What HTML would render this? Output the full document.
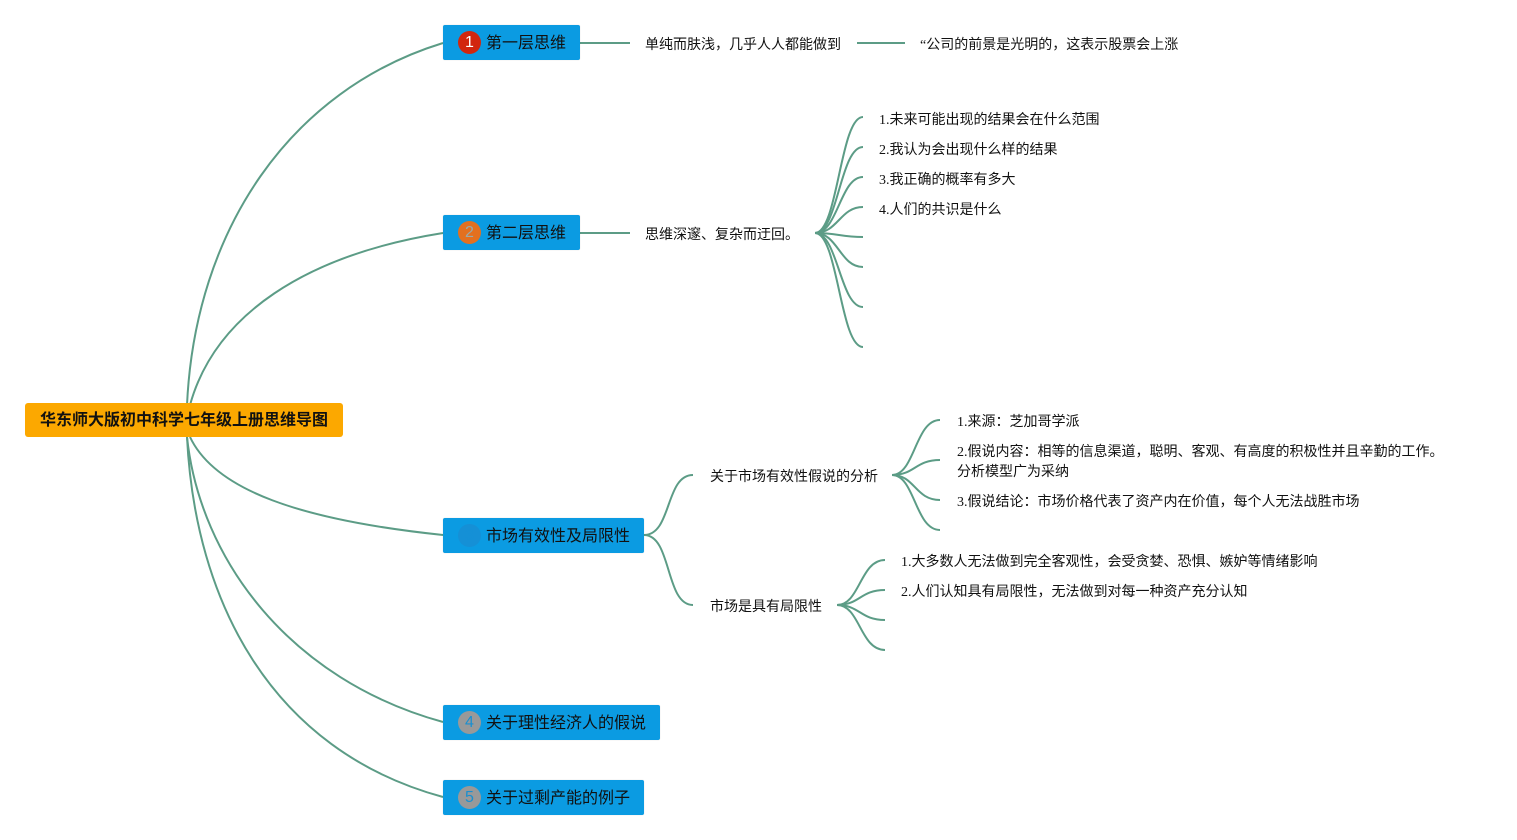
<!DOCTYPE html>
<html><head><meta charset="utf-8">
<style>
*{margin:0;padding:0;box-sizing:border-box}
body{width:1517px;height:840px;background:#fff;position:relative;overflow:hidden;font-family:"Liberation Sans","Noto Sans CJK SC",sans-serif;color:#111}
.t{position:absolute;font-size:14px;line-height:20px;white-space:nowrap;font-family:"Liberation Serif","Noto Sans CJK SC",sans-serif;margin-top:2px}
.b{position:absolute;background:#0B9BE2;border-radius:2px;font-size:16px;line-height:35px;height:35px;color:#111;box-shadow:0 0 1px rgba(0,0,0,.2)}
.b span.l{position:absolute;left:43px;top:1px}
.c{position:absolute;left:15px;top:6px;width:23px;height:23px;border-radius:50%;font-size:16px;line-height:23px;text-align:center}
.root{position:absolute;left:25px;top:403px;width:318px;height:34px;background:#FCA800;border-radius:3px;font-weight:bold;font-size:16px;line-height:36px;text-align:center;color:#111}
svg{position:absolute;left:0;top:0}
</style></head><body>
<svg width="1517" height="840" fill="none" stroke="#5C9C86" stroke-width="2">
<path d="M187,405 C195,230 290,90 443,43"/>
<path d="M190,405 C215,315 305,255 443,233"/>
<path d="M190,437 C215,490 300,520 443,535"/>
<path d="M187,437 C200,560 290,680 443,722"/>
<path d="M187,437 C195,600 270,750 443,797"/>
<path d="M580,43 H630"/>
<path d="M857,43 H905"/>
<path d="M580,233 H630"/>
<path d="M815,233 C838,233 840,117 863,117"/>
<path d="M815,233 C838,233 840,147 863,147"/>
<path d="M815,233 C838,233 840,177 863,177"/>
<path d="M815,233 C838,233 840,207 863,207"/>
<path d="M815,233 C838,233 840,237 863,237"/>
<path d="M815,233 C838,233 840,267 863,267"/>
<path d="M815,233 C838,233 840,307 863,307"/>
<path d="M815,233 C838,233 840,347 863,347"/>
<path d="M644,535 C672,535 665,475 693,475"/>
<path d="M644,535 C672,535 665,605 693,605"/>
<path d="M892,475 C915,475 915,420 940,420"/>
<path d="M892,475 C915,475 915,460 940,460"/>
<path d="M892,475 C915,475 915,500 940,500"/>
<path d="M892,475 C915,475 915,530 940,530"/>
<path d="M837,605 C860,605 860,560 885,560"/>
<path d="M837,605 C860,605 860,590 885,590"/>
<path d="M837,605 C860,605 860,620 885,620"/>
<path d="M837,605 C860,605 860,650 885,650"/>
</svg>

<div class="root">华东师大版初中科学七年级上册思维导图</div>

<div class="b" style="left:443px;top:25px;width:137px"><div class="c" style="background:#D2260E;color:#fff">1</div><span class="l">第一层思维</span></div>
<div class="b" style="left:443px;top:215px;width:137px"><div class="c" style="background:#E3701F;color:#9aa">2</div><span class="l">第二层思维</span></div>
<div class="b" style="left:443px;top:518px;width:201px"><div class="c" style="background:#1590D6;color:#1590D6">3</div><span class="l">市场有效性及局限性</span></div>
<div class="b" style="left:443px;top:705px;width:217px"><div class="c" style="background:#999;color:#1a8fd0">4</div><span class="l">关于理性经济人的假说</span></div>
<div class="b" style="left:443px;top:780px;width:201px"><div class="c" style="background:#999;color:#1a8fd0">5</div><span class="l">关于过剩产能的例子</span></div>

<div class="t" style="left:645px;top:34px">单纯而肤浅，几乎人人都能做到</div>
<div class="t" style="left:920px;top:34px">“公司的前景是光明的，这表示股票会上涨</div>

<div class="t" style="left:645px;top:224px">思维深邃、复杂而迂回。</div>
<div class="t" style="left:879px;top:109px">1.未来可能出现的结果会在什么范围</div>
<div class="t" style="left:879px;top:139px">2.我认为会出现什么样的结果</div>
<div class="t" style="left:879px;top:169px">3.我正确的概率有多大</div>
<div class="t" style="left:879px;top:199px">4.人们的共识是什么</div>

<div class="t" style="left:710px;top:466px">关于市场有效性假说的分析</div>
<div class="t" style="left:710px;top:596px">市场是具有局限性</div>
<div class="t" style="left:957px;top:411px">1.来源：芝加哥学派</div>
<div class="t" style="left:957px;top:441px">2.假说内容：相等的信息渠道，聪明、客观、有高度的积极性并且辛勤的工作。</div>
<div class="t" style="left:957px;top:461px">分析模型广为采纳</div>
<div class="t" style="left:957px;top:491px">3.假说结论：市场价格代表了资产内在价值，每个人无法战胜市场</div>
<div class="t" style="left:901px;top:551px">1.大多数人无法做到完全客观性，会受贪婪、恐惧、嫉妒等情绪影响</div>
<div class="t" style="left:901px;top:581px">2.人们认知具有局限性，无法做到对每一种资产充分认知</div>
</body></html>
